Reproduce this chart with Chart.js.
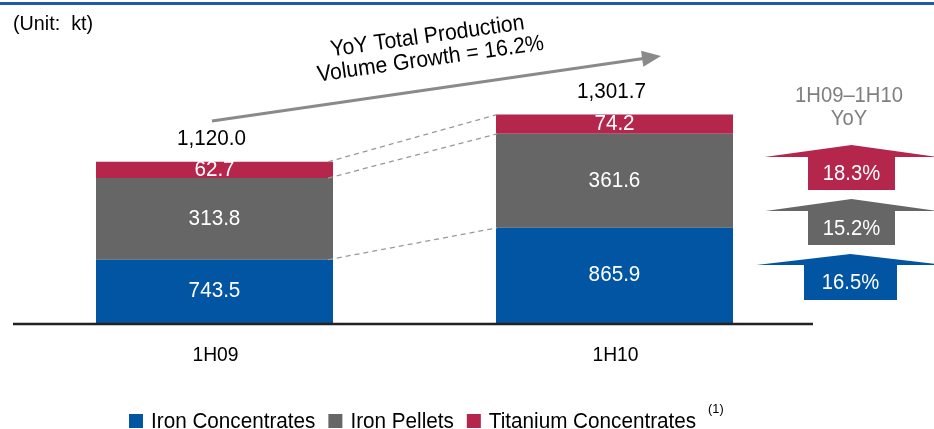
<!DOCTYPE html>
<html>
<head>
<meta charset="utf-8">
<script src="https://cdn.jsdelivr.net/npm/chart.js@4.4.1/dist/chart.umd.min.js"></script>
<style>
  body { margin: 0; background: #fff; }
  #wrap { width: 934px; height: 429px; }
</style>
</head>
<body>
<div id="wrap"><canvas id="myChart" width="934" height="429"></canvas></div>
<script>
// Data (kt)
const categories = ['1H09', '1H10'];
const ironConcentrates = [743.5, 865.9];
const ironPellets = [313.8, 361.6];
const titaniumConcentrates = [62.7, 74.2];
const seriesNames = ['Iron Concentrates', 'Iron Pellets', 'Titanium Concentrates'];
const seriesColors = ['#0255a3', '#666666', '#b4264c'];
const unitLabel = '(Unit:  kt)';
const yoyHeader = ['1H09\u20131H10', 'YoY'];
const legendNote = '(1)';

const FONT = '"Liberation Sans", Arial, sans-serif';
const SX = 0.94; // text in the picture is a bit narrow

function fmt(v) {
    return v.toLocaleString('en-US', { minimumFractionDigits: 1, maximumFractionDigits: 1 });
}
function growth(arr) {
    return ((arr[1] / arr[0] - 1) * 100).toFixed(1) + '%';
}
const totals = categories.map((c, i) => ironConcentrates[i] + ironPellets[i] + titaniumConcentrates[i]);

// draw text squeezed horizontally, returns drawn width
function txt(ctx, str, x, y, size, color, align, baseline) {
    ctx.save();
    ctx.font = size + 'px ' + FONT;
    ctx.fillStyle = color;
    ctx.textAlign = align || 'center';
    ctx.textBaseline = baseline || 'middle';
    ctx.translate(x, y);
    ctx.scale(SX, 1);
    ctx.fillText(str, 0, 0);
    const w = ctx.measureText(str).width * SX;
    ctx.restore();
    return w;
}

// draws a block arrow pointing up
function blockArrow(ctx, cx, apexY, headY, bottomY, halfHead, halfBody, color, text) {
    ctx.save();
    ctx.fillStyle = color;
    ctx.beginPath();
    ctx.moveTo(cx - halfHead, headY);
    ctx.lineTo(cx, apexY);
    ctx.lineTo(cx + halfHead, headY);
    ctx.lineTo(cx + halfBody, headY);
    ctx.lineTo(cx + halfBody, bottomY);
    ctx.lineTo(cx - halfBody, bottomY);
    ctx.lineTo(cx - halfBody, headY);
    ctx.closePath();
    ctx.fill();
    ctx.restore();
    txt(ctx, text, cx, (headY + bottomY) / 2 + 1, 21.5, '#ffffff');
}

const extras = {
    id: 'extras',
    afterDatasetsDraw(chart) {
        const ctx = chart.ctx;
        const area = chart.chartArea;
        const clampY = y => Math.min(Math.max(y, area.top), area.bottom);

        // segment labels
        chart.data.datasets.forEach((ds, di) => {
            chart.getDatasetMeta(di).data.forEach((bar, i) => {
                const top = clampY(bar.y);
                const bottom = clampY(bar.base);
                txt(ctx, ds.data[i].toFixed(1), bar.x, (top + bottom) / 2, 22, '#ffffff');
            });
        });

        // totals
        const topMeta = chart.getDatasetMeta(chart.data.datasets.length - 1);
        topMeta.data.forEach((bar, i) => {
            txt(ctx, fmt(totals[i]), bar.x - 3, bar.y - 23, 22, '#000000');
        });

        // dashed connectors between the two bars
        ctx.save();
        ctx.strokeStyle = '#999999';
        ctx.lineWidth = 1.3;
        ctx.setLineDash([5, 4]);
        chart.data.datasets.forEach((ds, di) => {
            const m = chart.getDatasetMeta(di).data;
            ctx.beginPath();
            ctx.moveTo(m[0].x + m[0].width / 2 - 5, m[0].y);
            ctx.lineTo(m[1].x - m[1].width / 2 + 1, m[1].y);
            ctx.stroke();
        });
        ctx.restore();
    },
    afterDraw(chart) {
        const ctx = chart.ctx;
        const area = chart.chartArea;
        const x = chart.scales.x;

        // top rule
        ctx.save();
        ctx.fillStyle = '#1f5ba6';
        ctx.fillRect(0, 2, 934, 3);
        ctx.restore();

        // unit text
        txt(ctx, unitLabel, 13, 24, 21, '#000000', 'left');

        // axis baseline
        ctx.save();
        ctx.strokeStyle = '#222222';
        ctx.lineWidth = 2.5;
        ctx.beginPath();
        ctx.moveTo(area.left - 1.5, area.bottom + 1);
        ctx.lineTo(area.right - 1.5, area.bottom + 1);
        ctx.stroke();
        ctx.restore();

        // category labels
        categories.forEach((c, i) => {
            txt(ctx, c, x.getPixelForValue(i) + 1, 355, 20.5, '#000000');
        });

        // total growth arrow
        ctx.save();
        ctx.strokeStyle = '#8a8a8a';
        ctx.fillStyle = '#8a8a8a';
        ctx.lineWidth = 3;
        const x0 = 212, y0 = 121, x1 = 661, y1 = 56;
        const ang = Math.atan2(y1 - y0, x1 - x0);
        ctx.beginPath();
        ctx.moveTo(x0, y0);
        ctx.lineTo(x1 - 16 * Math.cos(ang), y1 - 16 * Math.sin(ang));
        ctx.stroke();
        ctx.beginPath();
        ctx.moveTo(x1, y1);
        ctx.lineTo(x1 - 19 * Math.cos(ang) + 8 * Math.sin(ang), y1 - 19 * Math.sin(ang) - 8 * Math.cos(ang));
        ctx.lineTo(x1 - 19 * Math.cos(ang) - 8 * Math.sin(ang), y1 - 19 * Math.sin(ang) + 8 * Math.cos(ang));
        ctx.closePath();
        ctx.fill();
        ctx.restore();

        // rotated growth text
        const totalGrowth = growth(totals);
        ctx.save();
        ctx.translate(429, 48);
        ctx.rotate(-8 * Math.PI / 180);
        txt(ctx, 'YoY Total Production', 0, -11.5, 22.5, '#000000');
        txt(ctx, 'Volume Growth = ' + totalGrowth, 0, 11.5, 22.5, '#000000');
        ctx.restore();

        // YoY header
        txt(ctx, yoyHeader[0], 849, 96, 21.5, '#7f7f7f');
        txt(ctx, yoyHeader[1], 849, 119, 21.5, '#7f7f7f');

        // segment growth arrows (top to bottom: titanium, pellets, concentrates)
        blockArrow(ctx, 851.5, 145, 157, 190, 87, 43.5, seriesColors[2], growth(titaniumConcentrates));
        blockArrow(ctx, 851.5, 199, 211, 245, 86, 43.5, seriesColors[1], growth(ironPellets));
        blockArrow(ctx, 850.5, 254, 265, 300, 94, 46.5, seriesColors[0], growth(ironConcentrates));

        // legend
        let lx = 129;
        seriesNames.forEach((name, i) => {
            ctx.save();
            ctx.fillStyle = seriesColors[i];
            ctx.fillRect(lx, 414, 14, 14);
            ctx.restore();
            const w = txt(ctx, name, lx + 22, 428, 22, '#000000', 'left', 'alphabetic');
            lx += 22 + w + 13;
        });
        txt(ctx, legendNote, lx - 1, 413, 13.5, '#000000', 'left', 'alphabetic');
    }
};

const ctx = document.getElementById('myChart').getContext('2d');
const myChart = new Chart(ctx, {
    type: 'bar',
    data: {
        labels: categories,
        datasets: [
            { label: seriesNames[0], data: ironConcentrates, backgroundColor: seriesColors[0] },
            { label: seriesNames[1], data: ironPellets, backgroundColor: seriesColors[1] },
            { label: seriesNames[2], data: titaniumConcentrates, backgroundColor: seriesColors[2] }
        ]
    },
    options: {
        responsive: false,
        animation: false,
        layout: { padding: { left: 14.5, right: 119.5, top: 63, bottom: 106 } },
        datasets: { bar: { barPercentage: 0.5925, categoryPercentage: 1, borderWidth: 0 } },
        scales: {
            x: { stacked: true, display: false },
            y: { stacked: true, display: false, min: 500, max: 1500 }
        },
        plugins: {
            legend: { display: false },
            tooltip: { enabled: false }
        }
    },
    plugins: [extras]
});
</script>
</body>
</html>
